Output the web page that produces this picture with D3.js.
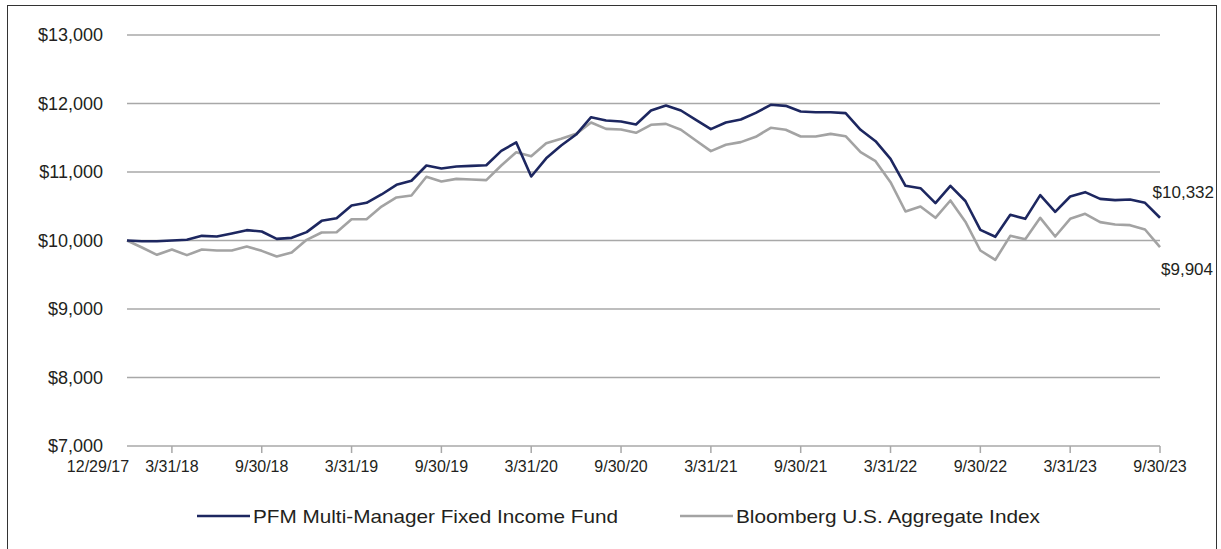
<!DOCTYPE html>
<html>
<head>
<meta charset="utf-8">
<script src="https://cdn.jsdelivr.net/npm/d3@7"></script>
<style>
  body { margin: 0; background: #fff; }
  svg { display: block; font-family: "Liberation Sans", Arial, sans-serif; }
</style>
</head>
<body>
<div id="chart"></div>
<script>
// monthly growth of $10,000, 12/29/17 .. 9/30/23
const FUND = [
  10000, 9990, 9990, 10000, 10010, 10068, 10058, 10102, 10151, 10131,
  10024, 10039, 10122, 10287, 10324, 10511, 10550, 10672, 10813, 10872,
  11095, 11051, 11080, 11090, 11099, 11309, 11431, 10934, 11200, 11387,
  11547, 11800, 11752, 11737, 11693, 11898, 11971, 11898, 11762, 11625,
  11723, 11766, 11864, 11981, 11966, 11883, 11873, 11873, 11859, 11616,
  11450, 11192, 10798, 10764, 10545, 10798, 10577, 10156, 10054, 10375,
  10316, 10662, 10418, 10642, 10706, 10608, 10589, 10599, 10550, 10332
]
const INDEX = [
  10000, 9898, 9791, 9869, 9786, 9869, 9854, 9854, 9912, 9849,
  9766, 9825, 10010, 10117, 10120, 10311, 10311, 10496, 10628, 10657,
  10930, 10861, 10900, 10891, 10881, 11095, 11289, 11231, 11421, 11484,
  11557, 11723, 11630, 11620, 11572, 11689, 11703, 11616, 11460, 11304,
  11397, 11436, 11514, 11645, 11616, 11518, 11518, 11557, 11523, 11289,
  11158, 10851, 10423, 10496, 10331, 10584, 10275, 9854, 9718, 10068,
  10019, 10331, 10058, 10316, 10389, 10268, 10233, 10224, 10161, 9904
]
const TICK_LABELS = ['12/29/17', '3/31/18', '9/30/18', '3/31/19', '9/30/19', '3/31/20',
  '9/30/20', '3/31/21', '9/30/21', '3/31/22', '9/30/22', '3/31/23', '9/30/23']
const TICK_INDEX = [0, 3, 9, 15, 21, 27, 33, 39, 45, 51, 57, 63, 69]
const Y_TICKS = [7000, 8000, 9000, 10000, 11000, 12000, 13000]
const SERIES = [
  { name: 'PFM Multi-Manager Fixed Income Fund', values: FUND, color: '#1d2760', end: '$10,332' },
  { name: 'Bloomberg U.S. Aggregate Index', values: INDEX, color: '#a3a3a3', end: '$9,904' },
]

const width = 1221, height = 549
const svg = d3.select('#chart').append('svg')
  .attr('width', width).attr('height', height)

// frame
svg.append('rect')
  .attr('x', 7.5).attr('y', 5.5)
  .attr('width', 1209).attr('height', 600)
  .attr('fill', 'none').attr('stroke', '#333').attr('stroke-width', 1)

const x = d3.scaleLinear().domain([0, FUND.length - 1]).range([127, 1160])
const y = d3.scaleLinear().domain([7000, 13000]).range([446, 35])

// gridlines
svg.append('g')
  .selectAll('line')
  .data(Y_TICKS)
  .join('line')
  .attr('x1', x(0)).attr('x2', x(FUND.length - 1))
  .attr('y1', d => y(d)).attr('y2', d => y(d))
  .attr('stroke', '#a8a8a8').attr('stroke-width', 1.5)

// y labels
svg.append('g')
  .selectAll('text')
  .data(Y_TICKS)
  .join('text')
  .attr('x', 103)
  .attr('y', d => y(d))
  .attr('dy', '0.35em')
  .attr('text-anchor', 'end')
  .attr('font-size', '18px')
  .attr('fill', '#231f20')
  .text(d => '$' + d3.format(',')(d))

// x ticks
svg.append('g')
  .selectAll('line')
  .data(TICK_INDEX.slice(1))
  .join('line')
  .attr('x1', d => x(d)).attr('x2', d => x(d))
  .attr('y1', y(7000)).attr('y2', y(7000) + 7)
  .attr('stroke', '#a8a8a8').attr('stroke-width', 1.5)

svg.append('g')
  .selectAll('text')
  .data(TICK_LABELS)
  .join('text')
  .attr('x', (d, i) => i === 0 ? x(TICK_INDEX[i]) - 29 : x(TICK_INDEX[i]))
  .attr('y', y(7000) + 26)
  .attr('text-anchor', 'middle')
  .attr('font-size', '16px')
  .attr('fill', '#231f20')
  .text(d => d)

// lines
const line = d3.line().x((d, i) => x(i)).y(d => y(d))
SERIES.slice().reverse().forEach(s => {
  svg.append('path')
    .datum(s.values)
    .attr('d', line)
    .attr('fill', 'none')
    .attr('stroke', s.color)
    .attr('stroke-width', 2.6)
    .attr('stroke-linejoin', 'round')
})

// end labels
svg.append('text')
  .attr('x', 1214).attr('y', y(FUND[FUND.length - 1]) - 20)
  .attr('text-anchor', 'end')
  .attr('font-size', '17px').attr('fill', '#231f20')
  .text(SERIES[0].end)
svg.append('text')
  .attr('x', 1213).attr('y', y(INDEX[INDEX.length - 1]) + 28)
  .attr('text-anchor', 'end')
  .attr('font-size', '17px').attr('fill', '#231f20')
  .text(SERIES[1].end)

// legend
const legend = svg.append('g')
const legendX = [197, 680]
const legendW = [365, 304]
SERIES.forEach((s, i) => {
  const g = legend.append('g').attr('transform', `translate(${legendX[i]},516)`)
  g.append('line').attr('x1', 0).attr('x2', 53)
    .attr('stroke', s.color).attr('stroke-width', 2.6)
  g.append('text').attr('x', 56).attr('dy', '0.35em')
    .attr('font-size', '19px').attr('fill', '#231f20')
    .attr('textLength', legendW[i]).attr('lengthAdjust', 'spacingAndGlyphs')
    .text(s.name)
})
</script>
</body>
</html>
